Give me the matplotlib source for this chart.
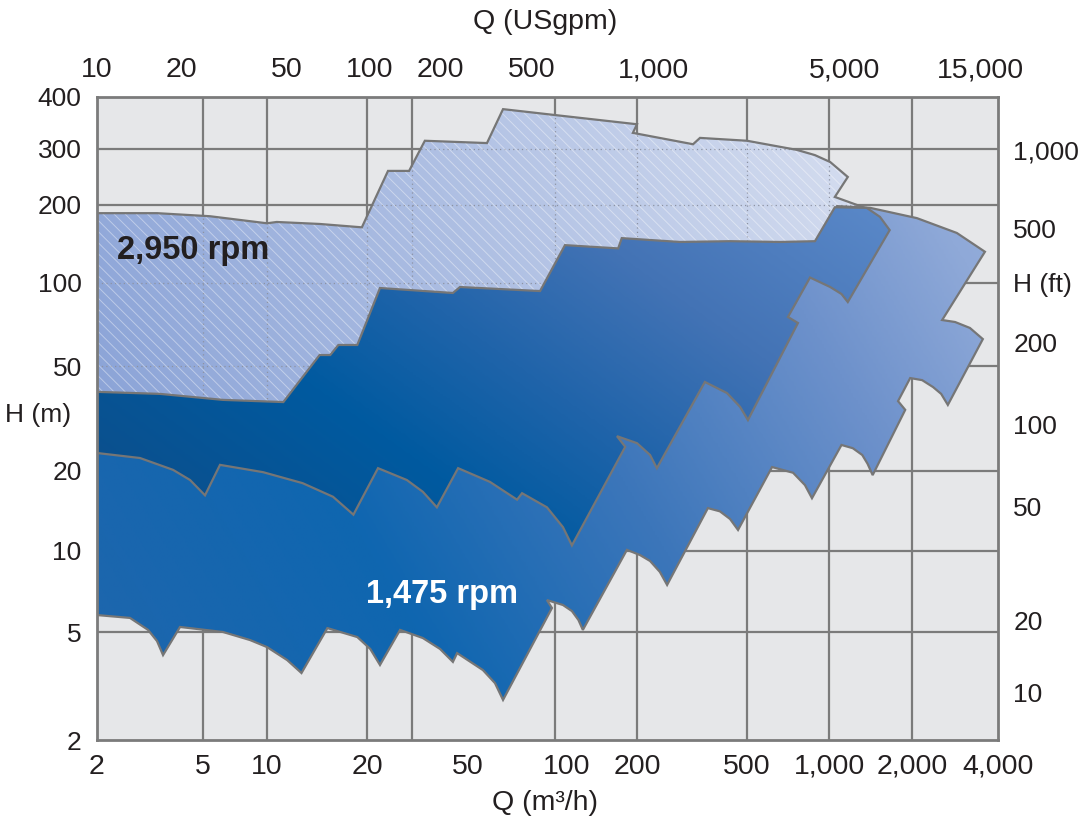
import numpy as np
import matplotlib
matplotlib.use('Agg')
import matplotlib.pyplot as plt
from matplotlib.patches import Polygon
from matplotlib.colors import LinearSegmentedColormap

# scale knots (value -> position in the original layout, the chart is not a true log grid)
q_knots = [2, 5, 10, 20, 50, 100, 200, 500, 1000, 2000, 4000]
q_pos = [97, 203, 267, 367, 468, 567, 637, 747, 829, 912, 998]
h_knots = [2, 5, 10, 20, 50, 100, 200, 300, 400]
h_pos = [-740, -632, -551, -471, -366, -283, -205, -149, -97]
usg_knots = [10, 20, 50, 100, 200, 500, 1000, 5000, 15000]
usg_pos = [97, 181, 287, 370, 440, 532, 654, 845, 980]
ft_knots = [10, 20, 50, 100, 200, 500, 1000]
ft_pos = [-692, -620, -507, -425, -342, -228, -150]

q_labels = ['2', '5', '10', '20', '50', '100', '200', '500', '1,000', '2,000', '4,000']
h_labels = ['2', '5', '10', '20', '50', '100', '200', '300', '400']
usg_labels = ['10', '20', '50', '100', '200', '500', '1,000', '5,000', '15,000']
ft_labels = ['10', '20', '50', '100', '200', '500', '1,000']

grid_q = [5, 10, 20, 30, 92, 200, 500, 1000, 2000]
grid_h = [5, 10, 20, 50, 100, 200, 300]

# 2,950 rpm range (light, hatched)  Q m3/h, H m
s1_q = [2,3.36,5.39,10,10.7,14.4,19.3,24.2,29.3,33.8,57.1,63.9,91.9,200,192,319,338,500,763,888,1010,1170,1050,1350,1890,1010,95.2,12.6,2]
s1_h = [186,186,181,170,172,169,164,256,256,314,310,374,362,344,328,308,319,314,298,287,273,245,212,195,140,117,73.4,31.2,31.2]
# dark range
s2_q = [2,3.45,6.21,11.2,14.4,15.5,16.4,18.7,22.5,43.6,46.5,82.8,98.6,166,172,286,434,661,888,1050,1370,1530,1660,1170,1110,1010,852,707,769,504,472,423,352,236,223,200,164,178,105,97.2,86.9,73,70.5,58.3,45.7,37.7,33.2,28.7,22.1,18.2,15.8,12.8,9.58,6.01,5.11,4.47,3.86,2.9,2]
s2_h = [39.9,39.2,37.2,36.5,54.8,54.8,59.6,59.6,95.9,92,96.7,93.5,140,136,149,144,145,144,145,196,195,180,160,85.3,91.2,96.7,105,75.3,71.6,31.2,35,39.5,43.5,20.5,23,25.5,27.1,24.7,10.5,12.3,14.6,16.5,15.6,18.2,20.5,14.6,16.7,18.5,20.5,13.7,16,18,19.8,21.1,16.2,18.5,20.2,22.4,23.4]
# 1,475 rpm range
s3_q = [2,2,2.66,3.11,3.36,3.54,4.1,6.21,8.32,10,11.5,12.7,15.2,18.7,20.6,22.5,27,33.2,38.8,43.6,45.3,55.5,60.4,63.9,90,86.9,97.2,105,112,117,181,205,223,242,257,361,399,434,464,618,738,816,866,1110,1220,1320,1380,1440,1890,1780,1970,2170,2370,2530,2670,3540,3190,2830,2550,3600,2870,2080,1410,1070,927,139,27,2]
s3_h = [26.2,5.78,5.64,5.09,4.63,4.11,5.22,5,4.67,4.4,3.94,3.53,5.17,4.79,4.33,3.78,5.09,4.75,4.33,3.88,4.18,3.62,3.24,2.81,6.14,6.57,6.3,5.98,5.54,5.09,10.1,9.66,9.18,8.36,7.48,14.5,14.1,13.2,12,20.7,19.7,17.7,15.8,25.1,24.4,23,21.3,19.3,34.1,36.8,45,44.2,41.6,39.2,35.6,62.6,68.7,72.2,73.4,132,156,178,195,198,123,31.2,26.2,26.2]


def knot_scale(vals, pos):
    lv = np.log10(vals)
    pos = np.asarray(pos, float)
    s0 = (pos[1] - pos[0]) / (lv[1] - lv[0])
    s1 = (pos[-1] - pos[-2]) / (lv[-1] - lv[-2])
    lv_e = np.r_[lv[0] - 20, lv, lv[-1] + 20]
    pos_e = np.r_[pos[0] - 20 * s0, pos, pos[-1] + 20 * s1]

    def fwd(v):
        v = np.clip(np.asarray(v, float), 1e-12, None)
        return np.interp(np.log10(v), lv_e, pos_e)

    def inv(p):
        return 10 ** np.interp(np.asarray(p, float), pos_e, lv_e)
    return fwd, inv


fig = plt.figure(figsize=(10.88, 8.23), dpi=100)
ax = fig.add_axes([97/1088, (823-740)/823, 901/1088, 643/823])
ax.set_xscale('function', functions=knot_scale(q_knots, q_pos))
ax.set_yscale('function', functions=knot_scale(h_knots, h_pos))
ax.set_xlim(2, 4000)
ax.set_ylim(2, 400)
ax.set_facecolor('#e6e7e9')

for g in grid_q:
    ax.axvline(g, color='#7b7b7b', lw=1.6, zorder=0.5)
for g in grid_h:
    ax.axhline(g, color='#7b7b7b', lw=1.6, zorder=0.5)

gx, gy = np.meshgrid(np.linspace(0, 1, 400), np.linspace(0, 1, 300))


def shape(q, h, z, cmap, t, vmin, vmax):
    # gradient image clipped to the outline polygon
    outline = Polygon(np.c_[q, h], closed=True, fc='none', ec='#767676',
                      lw=1.6, zorder=z + 0.3)
    ax.add_patch(outline)
    im = ax.imshow(t, extent=[0, 1, 0, 1], transform=ax.transAxes, origin='lower',
                   cmap=cmap, vmin=vmin, vmax=vmax, aspect='auto',
                   interpolation='bilinear', zorder=z)
    im.set_clip_path(outline)
    return outline


cm1 = LinearSegmentedColormap.from_list('s1', ['#7f9ad3', '#aebfe3', '#e3e8f4'])
cm3 = LinearSegmentedColormap.from_list('s3', [(0, '#2066ad'), (0.3, '#0f66b0'), (0.53, '#3c76ba'),
                                               (0.75, '#6d91cb'), (0.9, '#8fa9d8'), (1, '#9ab2dd')])
cm2 = LinearSegmentedColormap.from_list('s2', [(0, '#0c4f8c'), (0.3, '#005aa0'), (0.5, '#2064aa'),
                                               (0.72, '#4373b5'), (1, '#5a88c8')])

p1 = shape(s1_q, s1_h, 1, cm1, 0.75 * gx + 0.25 * gy, 0, 1)
# grid shows through the light range as dotted lines
for g in grid_q:
    ln = ax.axvline(g, color='#8d93a3', lw=0.9, ls=(0, (1, 2.5)), zorder=1.1)
    ln.set_clip_path(p1)
for g in grid_h:
    ln = ax.axhline(g, color='#8d93a3', lw=0.9, ls=(0, (1, 2.5)), zorder=1.1)
    ln.set_clip_path(p1)
plt.rcParams['hatch.linewidth'] = 0.7
ax.add_patch(Polygon(np.c_[s1_q, s1_h], closed=True, fc='none', ec=(1, 1, 1, 0.4),
                     lw=0, hatch='\\\\\\', zorder=1.2))
shape(s3_q, s3_h, 2, cm3, 0.7 * gx + 0.3 * gy, 0, 1)
shape(s2_q, s2_h, 3, cm2, gx + gy, 0.4, 1.7)

ax.set_xlim(2, 4000)
ax.set_ylim(2, 400)

font = ['Liberation Sans', 'DejaVu Sans']
ink = '#231f20'
ax.text((193 - 97) / 901, (740 - 250) / 643, '2,950 rpm', transform=ax.transAxes, ha='center',
        va='center', fontsize=23.5, fontweight='bold', color=ink, family=font, zorder=6)
ax.text((442 - 97) / 901, (740 - 595) / 643, '1,475 rpm', transform=ax.transAxes, ha='center',
        va='center', fontsize=23.5, fontweight='bold', color='white', family=font, zorder=6)

for s in ax.spines.values():
    s.set_color('#7b7b7b')
    s.set_linewidth(2)
    s.set_zorder(8)

ax.set_xticks(q_knots, q_labels)
ax.set_yticks(h_knots, h_labels)
ax.tick_params(length=0, colors=ink)
ax.tick_params(axis='x', pad=10, labelsize=20.5)
ax.tick_params(axis='y', pad=11, labelsize=19)
for lab in ax.get_xticklabels() + ax.get_yticklabels():
    lab.set_family(font)

# top axis: USgpm
uf, ui = knot_scale(usg_knots, usg_pos)
ax_t = ax.twiny()
ax_t.set_xscale('function', functions=(uf, ui))
ax_t.set_xlim(ui(97), ui(998))
ax_t.set_xticks(usg_knots, usg_labels)
ax_t.tick_params(length=0, pad=10, labelsize=20.5, colors=ink)
for lab in ax_t.get_xticklabels():
    lab.set_family(font)

# right axis: ft
ff, fi = knot_scale(ft_knots, ft_pos)
ax_r = ax.twinx()
ax_r.set_yscale('function', functions=(ff, fi))
ax_r.set_ylim(fi(-740), fi(-97))
ax_r.set_yticks(ft_knots, ft_labels)
ax_r.tick_params(length=0, pad=11, labelsize=19, colors=ink)
for lab in ax_r.get_yticklabels():
    lab.set_family(font)
for a in (ax_t, ax_r):
    for s in a.spines.values():
        s.set_visible(False)

fig.text(545 / 1088, 1 - 22 / 823, 'Q (USgpm)', ha='center', va='center', fontsize=20.5,
         color=ink, family=font)
fig.text(545 / 1088, 1 - 803 / 823, 'Q (m³/h)', ha='center', va='center', fontsize=20.5,
         color=ink, family=font)
fig.text(38 / 1088, 1 - 415 / 823, 'H (m)', ha='center', va='center', fontsize=19,
         color=ink, family=font)
fig.text(1013 / 1088, 1 - 285 / 823, 'H (ft)', ha='left', va='center', fontsize=19,
         color=ink, family=font)

fig.savefig('out.png', dpi=100)
